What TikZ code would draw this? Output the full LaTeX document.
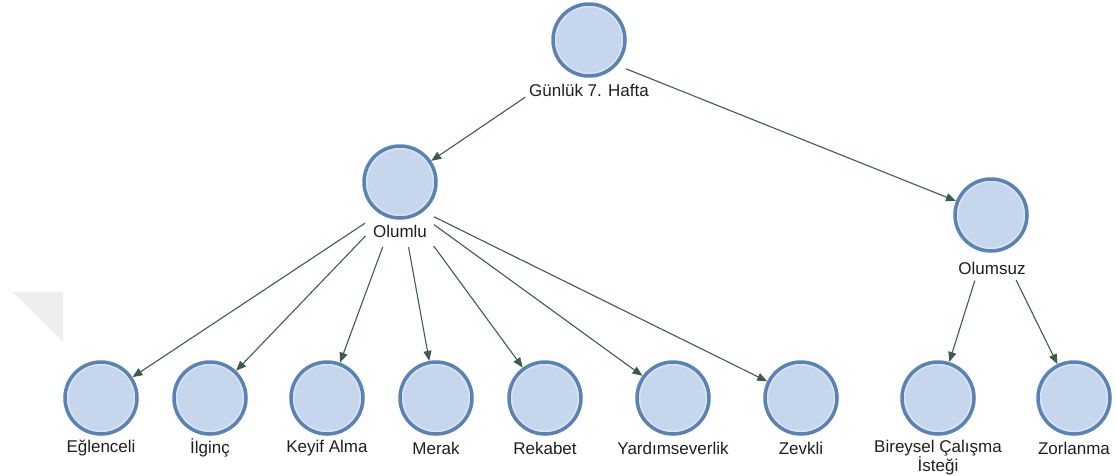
\documentclass[tikz,border=0pt]{standalone}
\usepackage{fontspec}
\setmainfont{Liberation Sans}
\usetikzlibrary{arrows.meta}
\definecolor{nodefill}{HTML}{C6D6EC}
\definecolor{nodeline}{HTML}{5A82B4}
\definecolor{nodeglow}{HTML}{DCE7F6}
\definecolor{edgecol}{HTML}{3E5C4E}
\definecolor{marktri}{HTML}{EEEEEE}
\begin{document}
\begin{tikzpicture}[x=1pt,y=-1pt,
  topic/.style={circle,draw=nodeline,fill=nodefill,line width=3.5pt,
    minimum size=72pt,inner sep=0pt,
    path picture={\draw[nodeglow,line width=1.4pt]
      (path picture bounding box.center) circle (33.4pt);}},
  caption/.style={font=\fontsize{17}{16}\selectfont,text=black!88,
    inner sep=0pt,align=center},
  edge/.style={draw=edgecol,line width=1.1pt,
    -{Triangle[length=10pt,width=8pt]}},
]
\useasboundingbox (0,0) rectangle (1116,475);

% faint corner mark
\fill[marktri] (13,292) -- (63,292) -- (63,342) -- cycle;

% upper levels
\node[topic] (gunluk) at (589,40) {};
\node[caption] (gunluk-l) at (589,90) {Günlük 7. Hafta};
\coordinate (gunluk-hub) at (589,54);

\node[topic] (olumlu) at (400,182) {};
\node[caption] (olumlu-l) at (400,231) {Olumlu};
\coordinate (olumlu-hub) at (400,200);

\node[topic] (olumsuz) at (991,215) {};
\node[caption] (olumsuz-l) at (992,268) {Olumsuz};
\coordinate (olumsuz-hub) at (991,229);

% leaves
\foreach \nm/\x/\txt in {eglenceli/101/Eğlenceli, ilginc/210/İlginç,
    keyif/327/Keyif Alma, merak/436/Merak, rekabet/545/Rekabet,
    yardim/673/Yardımseverlik, zevkli/801/Zevkli, zorlanma/1074/Zorlanma}{
  \node[topic] (\nm) at (\x,398) {};
  \node[caption] (\nm-l) at (\x,448) {\txt};
}
\node[topic] (bireysel) at (938,398) {};
\node[caption,anchor=north] (bireysel-l) at (938,440) {Bireysel Çalışma\\İsteği};

% connectors
\draw[edge,shorten <=77pt] (gunluk-hub) -- (olumlu);
\draw[edge,shorten <=40pt] (gunluk-hub) -- (olumsuz);

\draw[edge,shorten <=42pt] (olumlu-hub) -- (eglenceli);
\draw[edge,shorten <=50pt] (olumlu-hub) -- (ilginc);
\draw[edge,shorten <=50pt] (olumlu-hub) -- (keyif);
\draw[edge,shorten <=48pt] (olumlu-hub) -- (merak);
\draw[edge,shorten <=57pt] (olumlu-hub) -- (rekabet);
\draw[edge,shorten <=42pt] (olumlu-hub) -- (yardim);
\draw[edge,shorten <=38pt] (olumlu-hub) -- (zevkli);

\draw[edge,shorten <=54pt] (olumsuz-hub) -- (bireysel);
\draw[edge,shorten <=57pt] (olumsuz-hub) -- (zorlanma);
\end{tikzpicture}
\end{document}
